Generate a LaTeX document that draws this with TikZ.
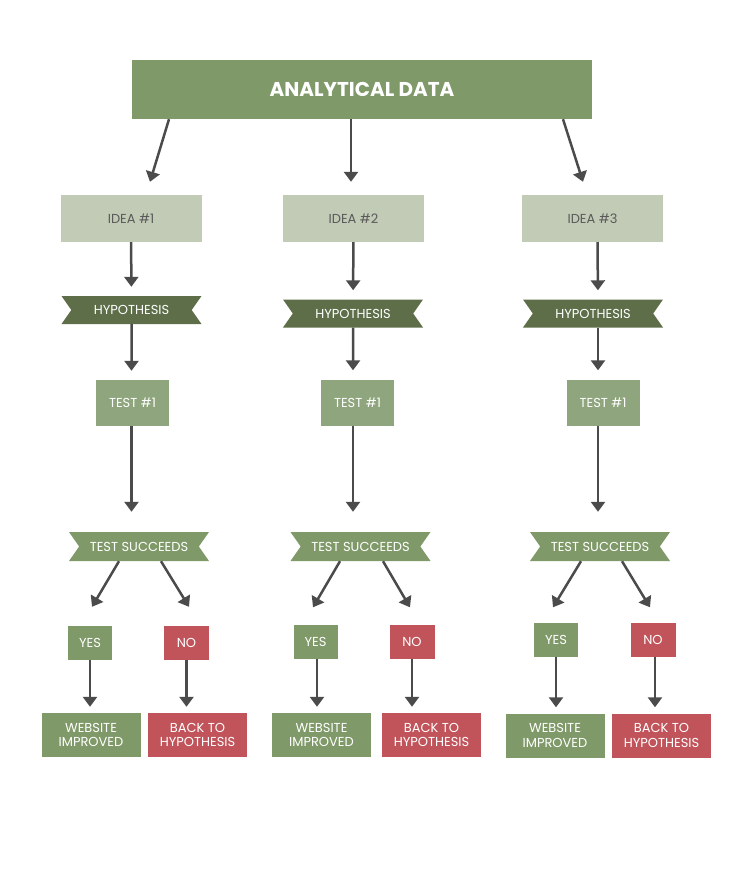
\documentclass[tikz,border=0pt]{standalone}
\usepackage{fontspec}
\setmainfont{Poppins}
\usetikzlibrary{shapes.symbols}
\usetikzlibrary{arrows.meta}
\usetikzlibrary{positioning}
\definecolor{datagreen}{HTML}{7F9969}
\definecolor{ideagreen}{HTML}{C1CBB6}
\definecolor{hypgreen}{HTML}{5D6E48}
\definecolor{testgreen}{HTML}{8FA57D}
\definecolor{noRed}{HTML}{C0545A}
\definecolor{arrowgray}{HTML}{4B4B4B}
\definecolor{ideatext}{HTML}{5A5A5A}
\tikzset{
  box/.style={inner sep=0pt,align=center,text=white,font=\fontsize{13}{14.5}\selectfont},
  ribbon/.style={box,shape=signal,signal to=nowhere,signal from=west and east,
    signal pointer angle=110},
}

\begin{document}
\begin{tikzpicture}[x=1pt,y=-1pt,
  flow/.style={-{Triangle[width=14pt,length=10pt]},line width=2.5pt,draw=arrowgray}]

        \useasboundingbox (0,0) rectangle (750,886);

        \node[box,fill=datagreen,minimum width=460pt,minimum height=59pt,
          font=\fontsize{20}{24}\selectfont\bfseries] (data) at (362,89.5) {ANALYTICAL DATA};

        \node[box,fill=ideagreen,text=ideatext,minimum width=141pt,minimum height=47pt] (idea1) at (131,218.5) {IDEA \#1};
        \node[box,fill=ideagreen,text=ideatext,minimum width=141pt,minimum height=47pt] (idea2) at (353.5,218.5) {IDEA \#2};
        \node[box,fill=ideagreen,text=ideatext,minimum width=141pt,minimum height=47pt] (idea3) at (592.5,218.5) {IDEA \#3};

        \node[ribbon,fill=hypgreen,minimum width=140pt,minimum height=28pt] (hyp1) at (131.5,310) {HYPOTHESIS};
        \node[ribbon,fill=hypgreen,minimum width=140pt,minimum height=28pt] (hyp2) at (353,313.5) {HYPOTHESIS};
        \node[ribbon,fill=hypgreen,minimum width=140pt,minimum height=28pt] (hyp3) at (593,313.5) {HYPOTHESIS};

        \node[box,fill=testgreen,minimum width=73pt,minimum height=46pt] (test1) at (132.5,403) {TEST \#1};
        \node[box,fill=testgreen,minimum width=73pt,minimum height=46pt] (test2) at (357.5,402.5) {TEST \#1};
        \node[box,fill=testgreen,minimum width=73pt,minimum height=46pt] (test3) at (603,402.5) {TEST \#1};

        \node[ribbon,fill=datagreen,minimum width=140pt,minimum height=29pt] (ok1) at (139,546.5) {TEST SUCCEEDS};
        \node[ribbon,fill=datagreen,minimum width=140pt,minimum height=29pt] (ok2) at (360.5,546.5) {TEST SUCCEEDS};
        \node[ribbon,fill=datagreen,minimum width=140pt,minimum height=29pt] (ok3) at (600,546.5) {TEST SUCCEEDS};

        \node[box,fill=datagreen,minimum width=44pt,minimum height=34pt] (yes1) at (90,643) {YES};
        \node[box,fill=noRed,minimum width=45pt,minimum height=34pt] (no1) at (186.5,643) {NO};
        \node[box,fill=datagreen,minimum width=44pt,minimum height=34pt] (yes2) at (315.5,641.5) {YES};
        \node[box,fill=noRed,minimum width=45pt,minimum height=34pt] (no2) at (412,641.5) {NO};
        \node[box,fill=datagreen,minimum width=44pt,minimum height=34pt] (yes3) at (556,639.5) {YES};
        \node[box,fill=noRed,minimum width=45pt,minimum height=34pt] (no3) at (653,639.5) {NO};

        \node[box,fill=datagreen,minimum width=99pt,minimum height=44pt] (web1) at (91,735) {WEBSITE\\IMPROVED};
        \node[box,fill=noRed,minimum width=99pt,minimum height=44pt] (back1) at (197.5,735) {BACK TO\\HYPOTHESIS};
        \node[box,fill=datagreen,minimum width=99pt,minimum height=44pt] (web2) at (321.5,735) {WEBSITE\\IMPROVED};
        \node[box,fill=noRed,minimum width=99pt,minimum height=44pt] (back2) at (431.5,735) {BACK TO\\HYPOTHESIS};
        \node[box,fill=datagreen,minimum width=99pt,minimum height=44pt] (web3) at (555,735.5) {WEBSITE\\IMPROVED};
        \node[box,fill=noRed,minimum width=99pt,minimum height=44pt] (back3) at (661.5,735.5) {BACK TO\\HYPOTHESIS};

        \draw[flow] ([xshift=-193pt]data.south) -- ([xshift=19pt,yshift=13pt]idea1.north);
        \draw[flow] ([xshift=-11pt]data.south) -- ([xshift=-2.5pt,yshift=13pt]idea2.north);
        \draw[flow] ([xshift=201pt]data.south) -- ([xshift=-9.5pt,yshift=13pt]idea3.north);

        \draw[flow,shorten >=9pt] (idea1) -- (hyp1);
        \draw[flow,shorten >=9pt] (idea2) -- (hyp2);
        \draw[flow,shorten >=9pt] ([xshift=5pt]idea3.south) -- ([xshift=5pt]hyp3.north);

        \draw[flow,shorten >=9pt] (hyp1) -- (test1.north -| hyp1);
        \draw[flow,shorten >=9pt] (hyp2) -- (test2.north -| hyp2);
        \draw[flow,shorten >=9pt] ([xshift=5pt]hyp3.south) -- ([xshift=5pt]hyp3.south |- test3.north);

        \draw[flow,shorten >=20pt] (test1.south -| hyp1) -- (ok1.north -| hyp1);
        \draw[flow,shorten >=20pt] (test2.south -| hyp2) -- (ok2.north -| hyp2);
        \draw[flow,shorten >=20pt] ([xshift=5pt]hyp3.south |- test3.south) -- ([xshift=5pt]hyp3.south |- ok3.north);

        \draw[flow] ([xshift=-20pt]ok1.south) -- ([xshift=2pt,yshift=19pt]yes1.north);
        \draw[flow] ([xshift=22pt]ok1.south) -- ([xshift=2.5pt,yshift=19pt]no1.north);
        \draw[flow] ([xshift=-20.5pt]ok2.south) -- ([xshift=-2.5pt,yshift=17pt]yes2.north);
        \draw[flow] ([xshift=22.5pt]ok2.south) -- ([xshift=-2pt,yshift=17pt]no2.north);
        \draw[flow] ([xshift=-19pt]ok3.south) -- ([xshift=-3pt,yshift=15pt]yes3.north);
        \draw[flow] ([xshift=22pt]ok3.south) -- ([xshift=-3pt,yshift=15pt]no3.north);

        \draw[flow,shorten >=6pt] (yes1) -- (yes1 |- web1.north);
        \draw[flow,shorten >=6pt] (no1) -- (no1 |- back1.north);
        \draw[flow,shorten >=6pt] ([xshift=1.5pt]yes2.south) -- ([xshift=1.5pt]yes2.south |- web2.north);
        \draw[flow,shorten >=6pt] (no2) -- (no2 |- back2.north);
        \draw[flow,shorten >=6pt] (yes3) -- (yes3 |- web3.north);
        \draw[flow,shorten >=6pt] ([xshift=2pt]no3.south) -- ([xshift=2pt]no3.south |- back3.north);

\end{tikzpicture}
\end{document}
